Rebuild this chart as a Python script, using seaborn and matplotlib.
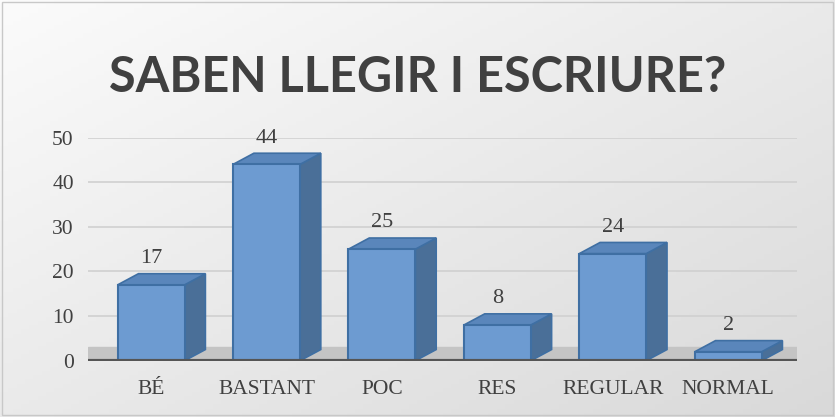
import numpy as np
import pandas as pd
import matplotlib
matplotlib.use("Agg")
import matplotlib.pyplot as plt
from matplotlib.patches import Polygon
import seaborn as sns

# dades
categories = ["BÉ", "BASTANT", "POC", "RES", "REGULAR", "NORMAL"]
values = [17, 44, 25, 8, 24, 2]
yticks = [0, 10, 20, 30, 40, 50]

sns.set_style("white")
plt.rcParams['font.family'] = ['Liberation Serif', 'DejaVu Serif']

df = pd.DataFrame({"cat": categories, "val": values})

fig = plt.figure(figsize=(8.35, 4.17), dpi=100)

# fons degradat
bg = fig.add_axes([0, 0, 1, 1], zorder=0)
gx, gy = np.meshgrid(np.linspace(0, 1, 200), np.linspace(0, 1, 100))
grad = 0.5 * gx + 0.5 * gy
bg.imshow(grad, cmap=matplotlib.colors.LinearSegmentedColormap.from_list(
    "g", ["#fbfbfb", "#d9d9d9"]), aspect="auto", extent=[0, 1, 0, 1])
bg.add_patch(plt.Rectangle((0.002, 0.004), 0.996, 0.992, fill=False,
                           edgecolor="#c8c8c8", lw=1, transform=bg.transAxes))
bg.axis("off")

ax = fig.add_axes([0.105, 0.135, 0.85, 0.535], zorder=1)
ax.set_facecolor("none")

sns.barplot(data=df, x="cat", y="val", color="#6d9bd1", width=0.58,
            edgecolor="#3f6fa3", linewidth=1.5, saturation=1, ax=ax, zorder=3)

# terra gris i línies de graella
ax.axhspan(0, 3, color="#c4c4c4", zorder=0)
for t in yticks[1:]:
    ax.axhline(t, color="#d0d0d0", lw=1.2, zorder=0)

# cara lateral i superior per donar volum
for p in ax.containers[0]:
    x0 = p.get_x()
    w = p.get_width()
    h = p.get_height()
    d = 0.18
    side = Polygon([[x0 + w, 0], [x0 + w + d, 2.5], [x0 + w + d, h + 2.5], [x0 + w, h]],
                   closed=True, facecolor="#4a6f98", edgecolor="#3f6fa3", lw=1.2, zorder=2)
    ax.add_patch(side)
    top = Polygon([[x0, h], [x0 + d, h + 2.5], [x0 + w + d, h + 2.5], [x0 + w, h]],
                  closed=True, facecolor="#5a86bb", edgecolor="#3f6fa3", lw=1.2, zorder=2)
    ax.add_patch(top)

ax.bar_label(ax.containers[0], labels=[str(v) for v in values], padding=12,
             fontsize=16, color="#404040")

ax.axhline(0, color="#555555", lw=3, zorder=4)
ax.set_ylim(0, 50)
ax.set_yticks(yticks)
ax.set_xlim(-0.55, 5.6)
ax.set_xlabel("")
ax.set_ylabel("")
ax.tick_params(axis="both", length=0, labelsize=15.5, labelcolor="#404040")
ax.tick_params(axis="x", pad=14)
ax.tick_params(axis="y", pad=10)
for s in ax.spines.values():
    s.set_visible(False)

fig.text(0.5, 0.815, "SABEN LLEGIR I ESCRIURE?", ha="center", va="center",
         fontsize=35, fontweight="bold", color="#404040",
         family=["Lato", "DejaVu Sans"])

fig.savefig("out.png", dpi=100)
